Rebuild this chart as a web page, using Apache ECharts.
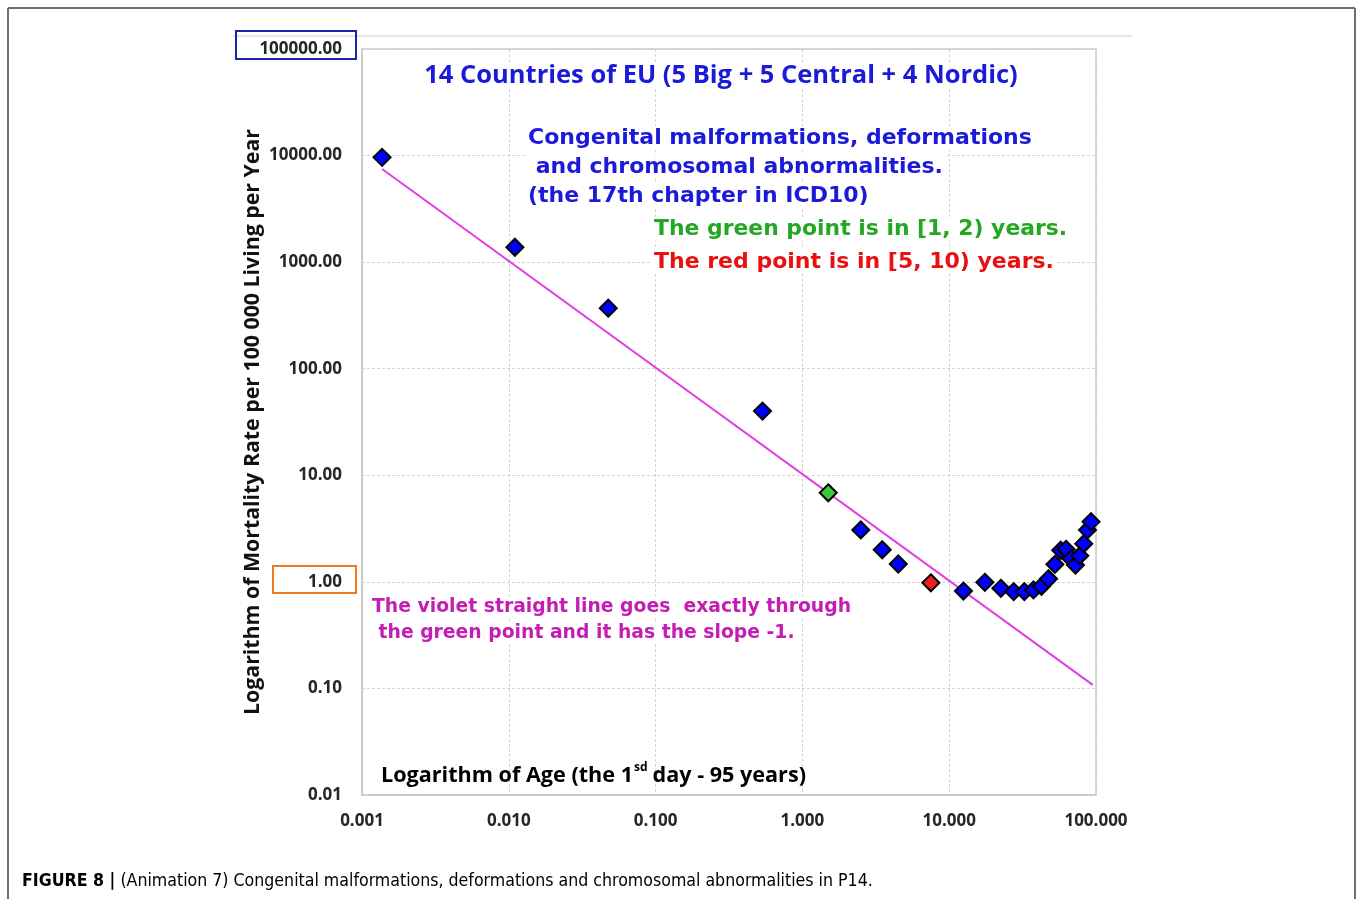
<!DOCTYPE html>
<html>
<head>
<meta charset="utf-8">
<script src="https://cdn.jsdelivr.net/npm/echarts@6/dist/echarts.min.js"></script>
<style>
html,body{margin:0;padding:0;background:#fff;}
#chart{width:1358px;height:899px;}
</style>
</head>
<body>
<div id="chart"></div>
<script>
// Age group positions (years) and mortality rates (per 100 000 per year)
var ages  = [0.00137, 0.011, 0.0476, 0.535, 1.5, 2.5, 3.5, 4.5, 7.5, 12.5, 17.5, 22.5, 27.5, 32.5, 37.5, 42.5, 47.5, 52.5, 57.5, 62.5, 67.5, 72.5, 77.5, 82.5, 87.5, 92.5];
var rates = [9620, 1380, 370, 40, 6.85, 3.07, 2.0, 1.47, 0.98, 0.82, 0.99, 0.87, 0.81, 0.81, 0.84, 0.91, 1.07, 1.46, 1.98, 2.02, 1.65, 1.44, 1.76, 2.28, 3.07, 3.67];
var groups = ['b','b','b','b','g','b','b','b','r','b','b','b','b','b','b','b','b','b','b','b','b','b','b','b','b','b'];
// Violet reference line (slope -1 through the green point), end points
var lineAges  = [0.00137, 95];
var lineRates = [7480, 0.108];
// Axis ranges
var xRange = [0.001, 100];
var yRange = [0.01, 100000];

var groupColors = {b:'#0000ff', g:'#3cc83c', r:'#f01e1e'};

var scatterData = ages.map(function(a,i){
  return {value:[a, rates[i]], itemStyle:{color:groupColors[groups[i]]}};
});
var lineData = lineAges.map(function(a,i){ return [a, lineRates[i]]; });

var chart = echarts.init(document.getElementById('chart'));
var lblFont = 'Open Sans';
var annFont = '"DejaVu Sans"';
function ann(x, y, text, color, size){
  return {type:'text', x:x, y:y, z:5, style:{text:text, fill:color,
    font:'bold ' + size + 'px ' + annFont, textAlign:'left', textVerticalAlign:'middle',
    backgroundColor:'#fff', padding:[1,2,1,2]}};
}
chart.setOption({
  animation:false,
  backgroundColor:'#fff',
  grid:{left:362, right:262, top:49, bottom:104, show:true, borderColor:'#c9c9c9', borderWidth:1.5},
  xAxis:{
    type:'log', logBase:10, min:xRange[0], max:xRange[1],
    axisLine:{show:true, lineStyle:{color:'#c9c9c9', width:1.5}},
    axisTick:{show:false},
    splitLine:{show:true, lineStyle:{color:'#d4d4d4', type:[3,2], width:1}},
    minorTick:{show:false},
    axisLabel:{margin:18, fontFamily:lblFont, fontWeight:'bold', fontSize:17, color:'#262626',
      formatter:function(v){return Number(v).toFixed(3);}}
  },
  yAxis:{
    type:'log', logBase:10, min:yRange[0], max:yRange[1],
    name:'Logarithm of Mortality Rate per 100 000 Living per Year',
    nameLocation:'middle', nameGap:99, nameRotate:90, nameMoveOverlap:false,
    nameTextStyle:{fontFamily:lblFont, fontWeight:'bold', fontSize:21.3, color:'#111'},
    axisLine:{show:true, lineStyle:{color:'#c9c9c9', width:1.5}},
    axisTick:{show:false},
    splitLine:{show:true, lineStyle:{color:'#d4d4d4', type:[3,2], width:1}},
    axisLabel:{margin:20, fontFamily:lblFont, fontWeight:'bold', fontSize:17, color:'#262626',
      formatter:function(v){return Number(v).toFixed(2);}}
  },
  series:[
    {type:'line', data:lineData, showSymbol:false, symbol:'none',
     lineStyle:{color:'#e03ee0', width:2}, z:2, silent:true},
    {type:'scatter', data:scatterData, symbol:'diamond', symbolSize:[17,17],
     itemStyle:{borderColor:'#000', borderWidth:2, opacity:1}, z:3}
  ],
  graphic:[
    // figure frame
    {type:'line', shape:{x1:8,y1:8,x2:1355,y2:8}, style:{stroke:'#6f6f6f', lineWidth:2}},
    {type:'line', shape:{x1:8,y1:8,x2:8,y2:899}, style:{stroke:'#6f6f6f', lineWidth:2}},
    {type:'line', shape:{x1:1355,y1:8,x2:1355,y2:899}, style:{stroke:'#6f6f6f', lineWidth:2}},
    // chart area top line
    {type:'line', shape:{x1:233,y1:36,x2:1132,y2:36}, style:{stroke:'#dcdcdc', lineWidth:1.5}},
    // highlight boxes
    {type:'rect', shape:{x:236,y:31,width:120,height:28}, style:{fill:null, stroke:'#1f1fb0', lineWidth:2}, z:10},
    {type:'rect', shape:{x:273,y:566,width:83,height:27}, style:{fill:null, stroke:'#ef7a22', lineWidth:2}, z:10},
    // title
    {type:'text', x:721, y:76, z:5, style:{text:'14 Countries of EU (5 Big + 5 Central + 4 Nordic)', fill:'#1a1ad8',
      font:'bold 25.5px "Open Sans"', textAlign:'center', textVerticalAlign:'middle', backgroundColor:'#fff'}},
    ann(526, 138, 'Congenital malformations, deformations', '#1a1ad8', 22),
    ann(526, 167, ' and chromosomal abnormalities.', '#1a1ad8', 22),
    ann(526, 196, '(the 17th chapter in ICD10)', '#1a1ad8', 22),
    ann(652, 229, 'The green point is in [1, 2) years.', '#22a822', 21.9),
    ann(652, 262, 'The red point is in [5, 10) years.', '#e81010', 22),
    ann(370, 607, 'The violet straight line goes  exactly through', '#c41db4', 18.8),
    ann(370, 633, ' the green point and it has the slope -1.', '#c41db4', 18.8),
    // x axis name (inside plot)
    {type:'text', x:381, y:776, z:5, style:{
      text:'{a|Logarithm of Age (the 1}{s|sd}{a|day - 95 years)}',
      textAlign:'left', textVerticalAlign:'middle',
      rich:{
        a:{fontFamily:'Open Sans', fontWeight:'bold', fontSize:21.6, color:'#111', lineHeight:28},
        s:{fontFamily:'Open Sans', fontWeight:'bold', fontSize:12, color:'#111', lineHeight:28, verticalAlign:'top', padding:[0,5,9,1]}
      }}},
    // caption
    {type:'text', x:22, y:881, style:{
      text:'{b|FIGURE 8 |}{n| (Animation 7) Congenital malformations, deformations and chromosomal abnormalities in P14.}',
      textAlign:'left', textVerticalAlign:'middle',
      rich:{
        b:{fontFamily:'"Liberation Sans Narrow", "DejaVu Sans Condensed", sans-serif', fontWeight:'bold', fontSize:17.6, color:'#222'},
        n:{fontFamily:'"Liberation Sans Narrow", "DejaVu Sans Condensed", sans-serif', fontSize:17.6, color:'#333'}
      }}}
  ]
});
</script>
</body>
</html>
